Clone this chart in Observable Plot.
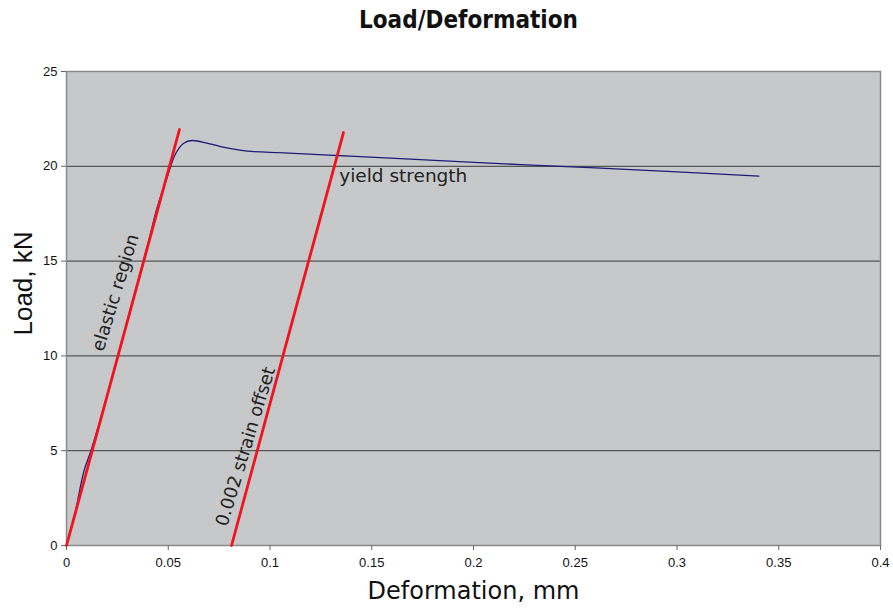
<!DOCTYPE html>
<html>
<head>
<meta charset="utf-8">
<script src="https://cdn.jsdelivr.net/npm/d3@7"></script>
<script src="https://cdn.jsdelivr.net/npm/@observablehq/plot@0.6"></script>
<style>
  body { margin: 0; background: #fff; }
  #title { width: 893px; box-sizing: border-box; padding-left: 44px; height: 40px; line-height: 40px; text-align: center;
    font-family: "DejaVu Sans Condensed", "DejaVu Sans", sans-serif; font-stretch: condensed; font-weight: bold; font-size: 24px; color: #111; }
</style>
</head>
<body>
<div id="title">Load/Deformation</div>
<div id="chart"></div>
<script>
// Measured load/deformation curve
const deformation = [0, 0.004, 0.0085, 0.012, 0.02, 0.03, 0.04, 0.0446, 0.0495, 0.0536, 0.0576, 0.0618, 0.0691, 0.0757, 0.0888, 0.1068, 0.133, 0.164, 0.2231, 0.2624, 0.2952, 0.3402];
const load        = [0, 1.6,   3.9,    5.0,   7.9,  11.9, 15.9, 17.84,  19.43,  20.66,  21.22,  21.36,  21.22,  21.04,  20.80,  20.71,  20.57, 20.40, 20.09,  19.90,  19.73,  19.48];

// Elastic line and 0.002 strain offset line
const elasticX = [0, 0.0555];
const elasticY = [0, 21.94];
const offsetX = [0.0811, 0.1361];
const offsetY = [0, 21.78];

// Annotations
const labelText = ["elastic region", "0.002 strain offset"];
const labelX = [0.0241, 0.088];
const labelY = [13.34, 5.22];
const yieldText = ["yield strength"];
const yieldX = [0.134];
const yieldY = [19.5];

// Axes
const xTicks = [0, 0.05, 0.1, 0.15, 0.2, 0.25, 0.3, 0.35, 0.4];
const yTicks = [0, 5, 10, 15, 20, 25];
const gridY = [5, 10, 15, 20];
const xTitle = "Deformation, mm";
const yTitle = "Load, kN";

const curve = deformation.map((d, i) => ({x: d, y: load[i]}));
const elastic = elasticX.map((d, i) => ({x: d, y: elasticY[i]}));
const offset = offsetX.map((d, i) => ({x: d, y: offsetY[i]}));
const labels = labelText.map((t, i) => ({t, x: labelX[i], y: labelY[i]}));
const yields = yieldText.map((t, i) => ({t, x: yieldX[i], y: yieldY[i]}));

const chart = Plot.plot({
  width: 893,
  height: 569,
  marginTop: 31,
  marginBottom: 64,
  marginLeft: 66,
  marginRight: 13,
  style: {fontFamily: "'Liberation Sans', Arial, sans-serif", fontSize: "13px", color: "#111", background: "#fff"},
  x: {domain: [0, 0.4], ticks: xTicks, tickFormat: d => String(+d.toFixed(2)), label: null},
  y: {domain: [0, 25], ticks: yTicks, label: null},
  marks: [
    Plot.frame({fill: "#c7c8ca"}),
    Plot.ruleY(gridY, {stroke: "#3a3a3a", strokeWidth: 1}),
    Plot.frame({stroke: "#8a8a8a", strokeWidth: 1.5}),
    Plot.axisX({ticks: xTicks, tickSize: 5, tickPadding: 7, stroke: "#666", fontSize: 13, tickFormat: d => String(+d.toFixed(2))}),
    Plot.axisY({ticks: yTicks, tickSize: 5, tickPadding: 4, stroke: "#666", fontSize: 13}),
    Plot.line(curve, {x: "x", y: "y", stroke: "#1c1c78", strokeWidth: 1.3, curve: "catmull-rom"}),
    Plot.line(elastic, {x: "x", y: "y", stroke: "#f0141e", strokeWidth: 2.8}),
    Plot.line(offset, {x: "x", y: "y", stroke: "#f0141e", strokeWidth: 2.8}),
    Plot.text(labels, {x: "x", y: "y", text: "t", rotate: -73, fontSize: 18, fill: "#222",
      fontFamily: "'DejaVu Sans', Verdana, sans-serif"}),
    Plot.text(yields, {x: "x", y: "y", text: "t", textAnchor: "start", fontSize: 18.5, fill: "#222",
      fontFamily: "'DejaVu Sans', Verdana, sans-serif"}),
    Plot.text([xTitle], {frameAnchor: "bottom", dy: 53, text: d => d, fontSize: 24, fill: "#111",
      fontFamily: "'DejaVu Sans', Verdana, sans-serif"}),
    Plot.text([yTitle], {frameAnchor: "left", textAnchor: "middle", dx: -43, dy: -25, rotate: -90, text: d => d, fontSize: 26, fill: "#111",
      fontFamily: "'Liberation Sans', Arial, sans-serif"})
  ]
});
document.getElementById("chart").appendChild(chart);
</script>
</body>
</html>
